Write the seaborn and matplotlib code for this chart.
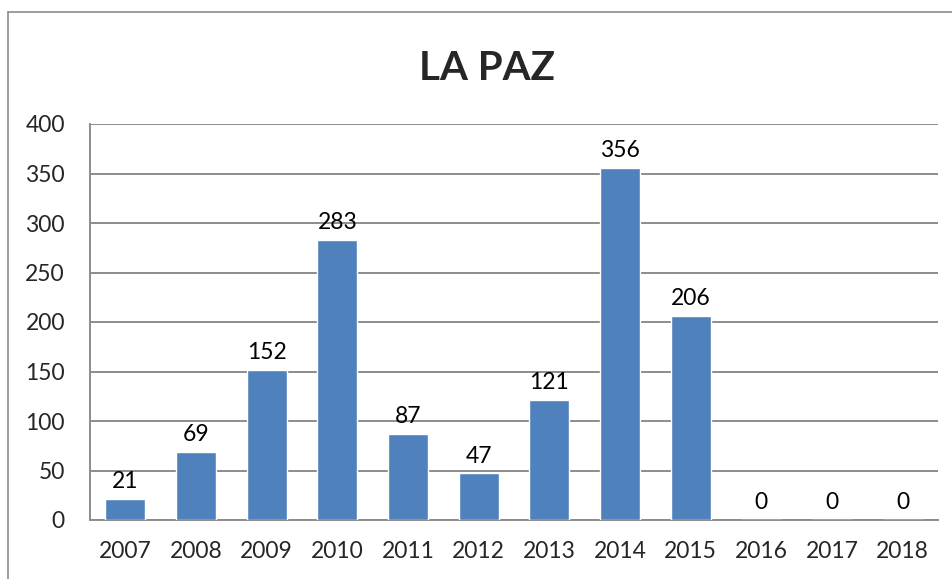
import matplotlib
matplotlib.use("Agg")
import matplotlib.pyplot as plt
import seaborn as sns
import pandas as pd
from matplotlib.lines import Line2D

years = ["2007", "2008", "2009", "2010", "2011", "2012", "2013", "2014", "2015", "2016", "2017", "2018"]
values = [21, 69, 152, 283, 87, 47, 121, 356, 206, 0, 0, 0]
yticks = [0, 50, 100, 150, 200, 250, 300, 350, 400]
title = "LA PAZ"

sns.set_theme(style="white")
plt.rcParams["font.family"] = ["Lato", "DejaVu Sans"]

df = pd.DataFrame({"year": years, "value": values})

fig = plt.figure(figsize=(9.53, 5.79), dpi=100)
ax = fig.add_axes([90/953, 1-520/579, (938-90)/953, (520-124)/579])
sns.barplot(data=df, x="year", y="value", color="#4F81BD", saturation=1, width=0.57, ax=ax, zorder=3)

ax.set_ylim(0, 400)
ax.set_xlim(-0.5, len(years)-0.5)
ax.set_yticks(yticks)
ax.set_yticklabels([str(t) for t in yticks], fontsize=16.5)
ax.tick_params(axis="x", labelsize=16.5, length=0, pad=15)
ax.tick_params(axis="y", length=0, pad=18)
ax.set_xlabel("")
ax.set_ylabel("")
ax.grid(axis="y", color="#8c8c8c", linewidth=1.4, zorder=0)
for s in ["top", "right"]:
    ax.spines[s].set_visible(False)
for s in ["left", "bottom"]:
    ax.spines[s].set_color("#8c8c8c")
    ax.spines[s].set_linewidth(1.4)

for i, v in enumerate(values):
    ax.annotate(str(v), (i, v), xytext=(0, 5), textcoords="offset points",
                ha="center", va="bottom", fontsize=16.5, color="black", zorder=4)

fig.text(487/953, 1-68/579, title, ha="center", va="center", fontsize=29, fontweight="bold")

fig.add_artist(Line2D([8/953, 1], [1-12/579, 1-12/579], color="#8c8c8c", linewidth=1.2))
fig.add_artist(Line2D([8/953, 8/953], [0, 1-12/579], color="#8c8c8c", linewidth=1.2))

fig.savefig("out.png", dpi=100)
